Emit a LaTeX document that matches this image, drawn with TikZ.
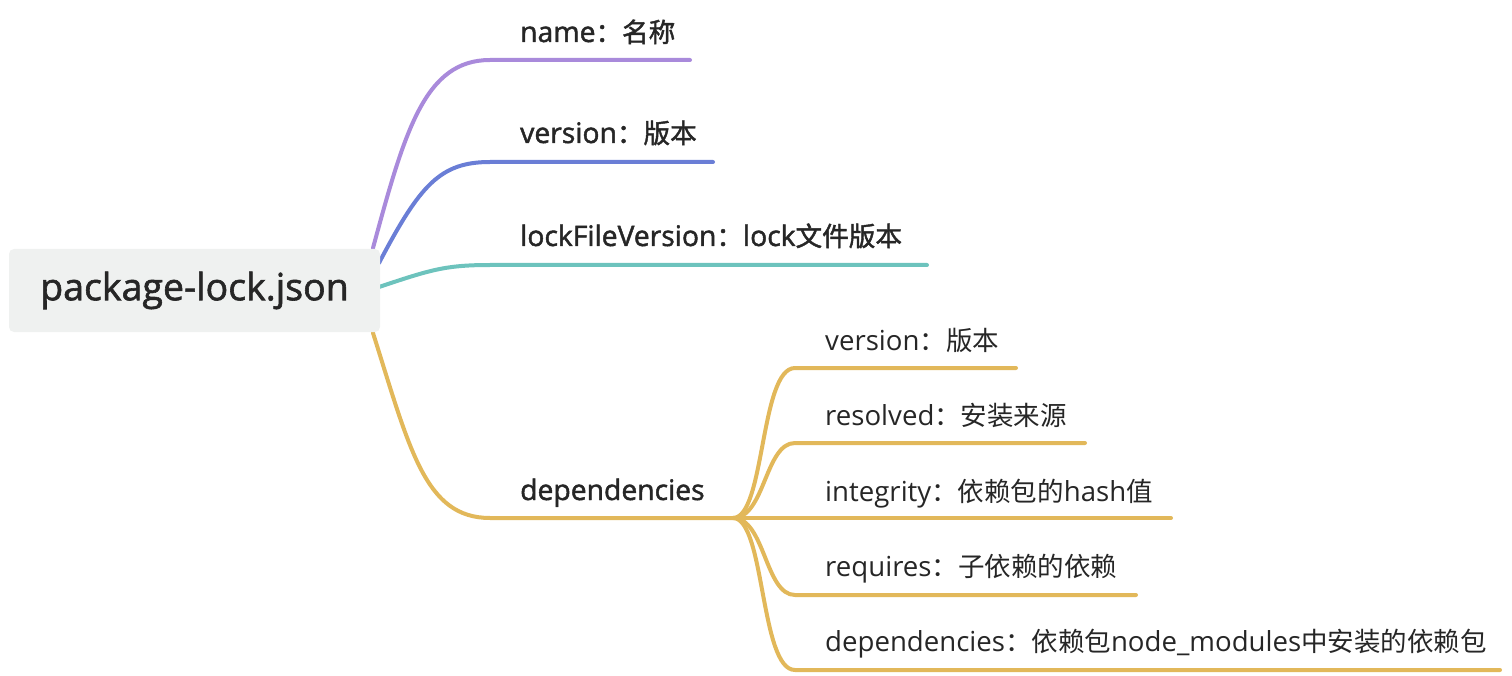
\documentclass[tikz,border=0pt]{standalone}
\usepackage{fontspec}
\setmainfont{Open Sans}
\newfontfamily\cjkfont[Scale=0.96]{Noto Sans CJK SC}
\newfontfamily\medlat[FakeBold=1.6]{Open Sans}
\newfontfamily\medcjk[Scale=0.94,FakeBold=1.6]{Noto Sans CJK SC}
\newcommand\zh[1]{{\cjkfont #1}}
\newcommand\mzh[1]{{\medcjk #1}}
\pgfdeclarelayer{bg}
\pgfsetlayers{bg,main}
\definecolor{cpurple}{HTML}{A98ADB}
\definecolor{cblue}{HTML}{6A7ED6}
\definecolor{cteal}{HTML}{6DC3BD}
\definecolor{cgold}{HTML}{E2B85A}
\definecolor{cbox}{HTML}{EFF1F0}
\definecolor{ctext}{HTML}{262626}
\tikzset{
  rootbox/.style={fill=cbox, rounded corners=5pt, minimum width=371pt, minimum height=83pt, inner sep=0pt, font=\medlat\fontsize{37.5}{44}\selectfont, text=ctext},
  toplabel/.style={anchor=base west, inner sep=0pt, font=\medlat\fontsize{28.3}{33}\selectfont, text=ctext},
  sublabel/.style={anchor=base west, inner sep=0pt, font=\fontsize{27.6}{32}\selectfont, text=ctext},
  branch/.style={line width=4pt, line cap=round},
}
\begin{document}
\begin{tikzpicture}[x=1pt,y=-1pt]
\useasboundingbox (0,0) rectangle (1512,676);
\node[rootbox] (root) at (194.5,290.5) {package-lock.json};
% start points on root
\coordinate (s1) at (373,248);
\coordinate (s2) at (379,263);
\coordinate (s3) at (379,287);
\coordinate (s4) at (373,333);
% top level labels and line ends
\node[toplabel] (name) at (520,42) {name\mzh{：名称}};
\node[toplabel] (ver) at (520,143) {version\mzh{：版本}};
\node[toplabel] (lfv) at (520,246) {lockFileVersion\mzh{：}lock\mzh{文件版本}};
\node[toplabel] (deps) at (520,500) {dependencies};
\coordinate (e1) at (690,60);
\coordinate (e2) at (713,162);
\coordinate (e3) at (927,265);
\coordinate (j) at (733,518);
% sub labels
\node[sublabel] (sv) at (825,350) {version\zh{：版本}};
\node[sublabel] (sr) at (825,425) {resolved\zh{：安装来源}};
\node[sublabel] (si) at (825,501) {integrity\zh{：依赖包的}hash\zh{值}};
\node[sublabel] (sq) at (825,576) {requires\zh{：子依赖的依赖}};
\node[sublabel] (sd) at (825,651) {dependencies\zh{：依赖包}node\_modules\zh{中安装的依赖包}};
\coordinate (f1) at (1016,368);
\coordinate (f2) at (1085,443);
\coordinate (f3) at (1171,518);
\coordinate (f4) at (1136,595);
\coordinate (f5) at (1500,670);
\begin{pgfonlayer}{bg}
\draw[branch,cpurple] (s1) .. controls (405,130) and (425,60) .. (490,60) -- (e1);
\draw[branch,cblue] (s2) .. controls (420,185) and (440,162) .. (490,162) -- (e2);
\draw[branch,cteal] (s3) .. controls (430,270) and (445,265) .. (490,265) -- (e3);
\draw[branch,cgold] (s4) .. controls (410,450) and (425,518) .. (490,518) -- (j);
\draw[branch,cgold] (j) .. controls (765,518) and (760,368) .. (795,368) -- (f1);
\draw[branch,cgold] (j) .. controls (765,518) and (765,443) .. (795,443) -- (f2);
\draw[branch,cgold] (j) -- (f3);
\draw[branch,cgold] (j) .. controls (765,518) and (765,595) .. (795,595) -- (f4);
\draw[branch,cgold] (j) .. controls (765,518) and (760,670) .. (795,670) -- (f5);
\end{pgfonlayer}
\end{tikzpicture}
\end{document}
